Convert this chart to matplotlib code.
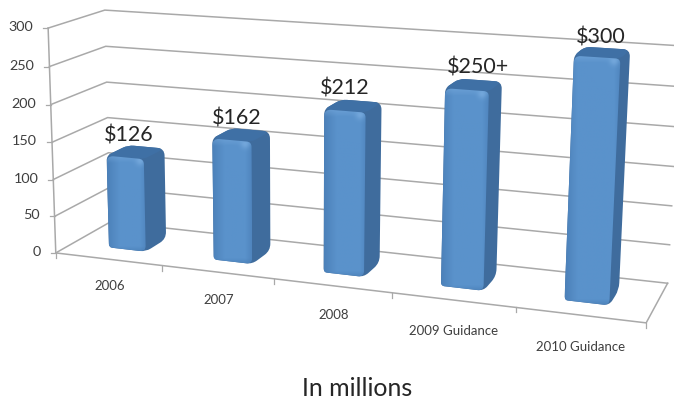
import numpy as np
import matplotlib
matplotlib.use('Agg')
import matplotlib.pyplot as plt
from matplotlib.patches import PathPatch
from matplotlib.path import Path

plt.rcParams['font.family'] = ['Lato', 'DejaVu Sans']

# data
categories = ['2006', '2007', '2008', '2009 Guidance', '2010 Guidance']
values = [126, 162, 212, 250, 300]
value_labels = ['$126', '$162', '$212', '$250+', '$300']
y_ticks = [0, 50, 100, 150, 200, 250, 300]
x_label = 'In millions'

Y_MAX = 300.0
BAR_WIDTH = 0.070
D_FRONT, D_BACK = 0.30, 0.70
BAR_NUDGE = [0.005, 0.0015, -0.002, -0.002, -0.002]
LABEL_DX = [4, 5, 0, 11, 4]
LABEL_DY = [-22, -22, -22, -22, -20]
GRID = '#a9a9a9'
TEXT = '#3f3f3f'

# box corners as seen in the picture: (u, value share, depth) -> pixel
corners = [((0, 0, 1), (108, 223)), ((1, 0, 1), (668, 282)),
           ((0, 1, 1), (107, 10)), ((1, 1, 1), (680, 46)),
           ((0, 0, 0), (58, 252)), ((1, 0, 0), (646, 324)),
           ((0, 1, 0), (46, 28))]


def fit_camera(pairs):
    rows, rhs = [], []
    for (u, v, d), (px, py) in pairs:
        rows.append([u, v, d, 1, 0, 0, 0, 0, -px * u, -px * v, -px * d])
        rows.append([0, 0, 0, 0, u, v, d, 1, -py * u, -py * v, -py * d])
        rhs += [px, py]
    sol = np.linalg.lstsq(np.array(rows, float), np.array(rhs, float), rcond=None)[0]
    return np.append(sol, 1).reshape(3, 4)


CAM = fit_camera(corners)


def project(u, value, d):
    p = CAM @ np.array([u, value / Y_MAX, d, 1.0])
    return p[0] / p[2], p[1] / p[2]


def rounded(points, radii):
    # closed polygon, every corner cut with a quadratic curve
    pts = np.array(points, float)
    n = len(pts)
    verts, codes = [], []
    for i in range(n):
        prev_p, cur, next_p = pts[i - 1], pts[i], pts[(i + 1) % n]
        r = radii[i]
        a = cur + (prev_p - cur) / np.linalg.norm(prev_p - cur) * r
        b = cur + (next_p - cur) / np.linalg.norm(next_p - cur) * r
        verts.append(a)
        codes.append(Path.MOVETO if i == 0 else Path.LINETO)
        verts += [cur, b]
        codes += [Path.CURVE3, Path.CURVE3]
    verts.append(verts[0])
    codes.append(Path.CLOSEPOLY)
    return Path(verts, codes)


def front_shading(x0, x1, y0, y1):
    w, h = int(x1 - x0) + 2, int(y1 - y0) + 2
    xx, yy = np.meshgrid(np.arange(w) + 0.5, np.arange(h) + 0.5)
    base = np.array([0x5a, 0x92, 0xcb]) / 255.0
    dark = np.array([0x48, 0x7c, 0xb4]) / 255.0
    light = np.array([0x78, 0xab, 0xde]) / 255.0
    img = np.ones((h, w, 3)) * base
    t_left = np.clip(1 - xx / 13.0, 0, 1)[..., None]
    t_right = np.clip(1 - (w - xx) / 7.0, 0, 1)[..., None]
    t_bot = np.clip(1 - (h - yy) / 6.0, 0, 1)[..., None]
    img = img * (1 - 0.8 * t_left) + dark * 0.8 * t_left
    img = img * (1 - 0.6 * t_right) + dark * 0.6 * t_right
    img = img * (1 - 0.7 * t_bot) + dark * 0.7 * t_bot
    t_top = np.clip(1 - yy / 8.0, 0, 1)[..., None]
    img = img * (1 - 0.55 * t_top) + light * 0.55 * t_top
    # little shine at the upper right corner
    glow = np.exp(-(((xx - (w - 7)) ** 2 + (yy - 6) ** 2) / 22.0))[..., None]
    img = img * (1 - 0.8 * glow) + light * 0.8 * glow
    return img


def draw_bar(ax, center, value, zorder):
    u0, u1 = center - BAR_WIDTH / 2, center + BAR_WIDTH / 2
    fl_b, fr_b = project(u0, 0, D_FRONT), project(u1, 0, D_FRONT)
    fl_t, fr_t = project(u0, value, D_FRONT), project(u1, value, D_FRONT)
    bl_t, br_t = project(u0, value, D_BACK), project(u1, value, D_BACK)
    br_b = project(u1, 0, D_BACK)

    # whole outline first, so no white shows where the faces round off
    hull = rounded([fl_t, bl_t, br_t, br_b, fr_b, fl_b], [5, 6, 7, 7, 6, 4])
    ax.add_patch(PathPatch(hull, fc='#3f6c9d', ec='none', zorder=zorder))
    top = rounded([fl_t, bl_t, br_t, fr_t], [5, 6, 7, 5])
    ax.add_patch(PathPatch(top, fc='#3f70a5', ec='none', zorder=zorder))

    front = rounded([fl_t, fr_t, fr_b, fl_b], [7, 5, 6, 3])
    x0, x1 = min(fl_t[0], fl_b[0]), max(fr_t[0], fr_b[0])
    y0, y1 = min(fl_t[1], fr_t[1]), max(fl_b[1], fr_b[1])
    im = ax.imshow(front_shading(x0, x1, y0, y1), extent=(x0, x1, y1, y0),
                   aspect='auto', interpolation='bilinear', zorder=zorder + 0.1)
    clip = PathPatch(front, fc='none', ec='none', zorder=zorder + 0.1)
    ax.add_patch(clip)
    im.set_clip_path(clip)


fig = plt.figure(figsize=(6.74, 4.0), dpi=100, facecolor='white')
ax = fig.add_axes([0, 0, 1, 1])

# walls and floor
for tick in y_ticks:
    front = project(0, tick, 0)
    back = project(0, tick, 1)
    right = project(1, tick, 1)
    ax.plot([front[0], back[0], right[0]], [front[1], back[1], right[1]],
            color=GRID, lw=1.1, zorder=1, solid_joinstyle='miter')
    ax.plot([front[0] - 5, front[0]], [front[1], front[1]], color=GRID, lw=0.9, zorder=1)
    ax.text(front[0] - 15, front[1] - 1, str(tick), ha='right', va='center',
            fontsize=10.4, color=TEXT, zorder=5)

a, b = project(0, 0, 0), project(0, Y_MAX, 0)
ax.plot([a[0], b[0]], [a[1], b[1]], color=GRID, lw=1.1, zorder=1)
a, b, c = project(0, 0, 0), project(1, 0, 0), project(1, 0, 1)
ax.plot([a[0], b[0], c[0]], [a[1], b[1], c[1]], color=GRID, lw=1.1, zorder=1)

n = len(categories)
for i in range(n + 1):
    p = project(i / n, 0, 0)
    ax.plot([p[0], p[0]], [p[1], p[1] + 5], color=GRID, lw=0.9, zorder=1)

for i, (cat, val, lab) in enumerate(zip(categories, values, value_labels)):
    center = (i + 0.5) / n
    draw_bar(ax, center + BAR_NUDGE[i], val, 2 + i)
    p = project(center + BAR_NUDGE[i], val, D_FRONT)
    ax.text(p[0] + LABEL_DX[i], p[1] + LABEL_DY[i], lab, ha='center', va='center',
            fontsize=15.5, color='#262626', zorder=20)
    q = project(center, 0, 0)
    ax.text(q[0] + 1, q[1] + 27 + 1.2 * i, cat, ha='center', va='center',
            fontsize=9.5, color=TEXT, zorder=20)

ax.text(357.5, 389, x_label, ha='center', va='center', fontsize=18, color='#262626')

ax.set_xlim(0, 674)
ax.set_ylim(400, 0)
ax.axis('off')

fig.savefig('out.png', dpi=100, facecolor='white')
